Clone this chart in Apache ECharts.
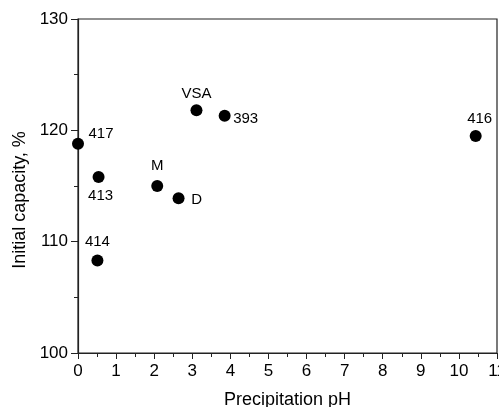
<!DOCTYPE html>
<html>
<head>
<meta charset="utf-8">
<script src="https://cdn.jsdelivr.net/npm/echarts@6/dist/echarts.min.js"></script>
<style>
  html, body { margin: 0; padding: 0; background: #fff; }
  #chart { width: 499px; height: 407px; }
</style>
</head>
<body>
<div id="chart"></div>
<script>
// Samples: precipitation pH vs. initial capacity
const sampleNames = ['417', '413', '414', 'M', 'D', 'VSA', '393', '416'];
const precipitationPH = [0.0, 0.54, 0.51, 2.08, 2.64, 3.11, 3.85, 10.44];
const initialCapacity = [118.8, 115.8, 108.3, 115.0, 113.9, 121.8, 121.3, 119.5];

const xTicks = { min: 0, max: 11, interval: 1 };
const yTicks = { min: 100, max: 130, interval: 10 };

// Label placement around each marker (pixel offsets from the marker centre)
const labelOffsets = {
  '417': [23, -10],
  '413': [2, 19],
  '414': [0, -19],
  'M':   [0, -20],
  'D':   [18, 2],
  'VSA': [0, -16],
  '393': [21, 3],
  '416': [4, -17]
};

const points = sampleNames.map((name, i) => ({
  name: name,
  value: [precipitationPH[i], initialCapacity[i]],
  label: { offset: labelOffsets[name] }
}));

const FONT = 'Liberation Sans, Arial, sans-serif';
const tickFont = { fontFamily: FONT, fontSize: 17, color: '#000' };
const titleFont = { fontFamily: FONT, fontSize: 18, color: '#000' };

const chart = echarts.init(document.getElementById('chart'), null, { renderer: 'canvas' });
chart.setOption({
  animation: false,
  backgroundColor: '#fff',
  grid: {
    left: 78, top: 19, right: 2, bottom: 54,
    containLabel: false, outerBoundsMode: 'none',
    show: true, borderColor: '#222', borderWidth: 1.2, backgroundColor: 'transparent'
  },
  xAxis: {
    type: 'value',
    min: xTicks.min, max: xTicks.max, interval: xTicks.interval,
    name: 'Precipitation pH',
    nameLocation: 'middle',
    nameGap: 38,
    nameTextStyle: Object.assign({}, titleFont),
    axisLine: { show: true, lineStyle: { color: '#222', width: 1.2 } },
    axisTick: { show: true, inside: false, length: 6, lineStyle: { color: '#222' } },
    minorTick: { show: true, splitNumber: 2, length: 4, lineStyle: { color: '#222' } },
    splitLine: { show: false },
    axisLabel: Object.assign({ margin: 10, showMaxLabel: true }, tickFont)
  },
  yAxis: {
    type: 'value',
    min: yTicks.min, max: yTicks.max, interval: yTicks.interval,
    name: 'Initial capacity, %',
    nameLocation: 'middle',
    nameGap: 49,
    nameTextStyle: Object.assign({ padding: [0, 28, 0, 0] }, titleFont),
    axisLine: { show: true, lineStyle: { color: '#222', width: 1.2 } },
    axisTick: { show: true, inside: false, length: 7, lineStyle: { color: '#222' } },
    minorTick: { show: true, splitNumber: 2, length: 4, lineStyle: { color: '#222' } },
    splitLine: { show: false },
    axisLabel: Object.assign({ margin: 10 }, tickFont)
  },
  series: [{
    type: 'scatter',
    data: points,
    symbol: 'circle',
    symbolSize: 12,
    itemStyle: { color: '#000', opacity: 1 },
    label: {
      show: true,
      position: 'inside',
      formatter: p => p.name,
      fontFamily: FONT,
      fontSize: 15,
      color: '#000',
      opacity: 1
    }
  }]
});
</script>
</body>
</html>
